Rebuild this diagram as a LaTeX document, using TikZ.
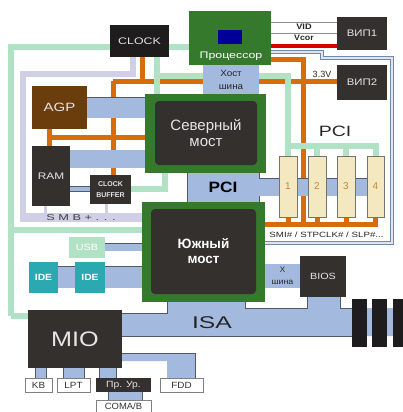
\documentclass[tikz,border=0pt]{standalone}
\usepackage{graphicx}
\usepackage{fontspec}
\setmainfont{Liberation Sans}
\usetikzlibrary{calc}
\definecolor{cOrange}{HTML}{D96C0A}
\definecolor{cMint}{HTML}{B2E2C6}
\definecolor{cLav}{HTML}{CFCFE6}
\definecolor{cBus}{HTML}{A3B9DE}
\definecolor{cEdge}{HTML}{4F5A6E}
\definecolor{cDark}{HTML}{33302E}
\definecolor{cBlack}{HTML}{1E1C1C}
\definecolor{cGreen}{HTML}{357A2C}
\definecolor{cBrown}{HTML}{6B3D0C}
\definecolor{cTeal}{HTML}{2AA9B0}
\definecolor{cSlot}{HTML}{F3E8BF}
\definecolor{cNum}{HTML}{C08A3A}
\definecolor{cSteel}{HTML}{6D8AA6}
\newcommand{\fs}[1]{\fontsize{#1}{#1}\selectfont}
\newcommand{\wid}[2]{\scalebox{#1}[1]{#2}}
\newcommand{\bx}[7]{%
  \pgfmathsetmacro{\bw}{#4-#2}\pgfmathsetmacro{\bh}{#5-#3}%
  \pgfmathsetmacro{\cx}{(#2+#4)/2}\pgfmathsetmacro{\cy}{(#3+#5)/2}%
  \node[#6,minimum width=\bw pt,minimum height=\bh pt] (#1) at (\cx,\cy) {#7};}
\tikzset{
  boxbase/.style={inner sep=0pt,outer sep=0pt,align=center,rectangle},
  darkbox/.style={boxbase,fill=cDark,text=white!90!black},
  blackbox/.style={boxbase,fill=cBlack,text=white!90!black},
  greenbox/.style={boxbase,fill=cGreen},
  slotbox/.style={boxbase,fill=cSlot,draw=black!55,line width=.5pt,text=cNum},
  portbox/.style={boxbase,fill=white,draw=black!50,line width=.6pt,text=black!80},
  tealbox/.style={boxbase,fill=cTeal,text=white},
  wireO/.style={cOrange,line width=5pt},
  wireM/.style={cMint,line width=5.5pt},
  wireL/.style={cLav,line width=6pt},
  wireG/.style={black!45,line width=.9pt},
  steel/.style={draw=cSteel,double=cLav!60!white,line width=.9pt,double distance=1.3pt},
  bus/.style={draw=cEdge,double=cBus,line width=.6pt,double distance=#1},
  busfill/.style={fill=cBus,draw=none},
  lbl/.style={inner sep=0pt,text=black!85}
}
\begin{document}
\begin{tikzpicture}[x=1pt,y=-1pt]
\useasboundingbox (0,0) rectangle (403,412);
% anchors only: the visible blocks are drawn after the wires
\bx{cpu}{189}{11}{271}{65}{boxbase}{}
\bx{clk}{110}{25}{169}{57}{boxbase}{}
\bx{vrm1}{337}{17}{387}{50}{boxbase}{}
\bx{vrm2}{337}{65}{387}{100}{boxbase}{}
\bx{nb}{145}{94}{266}{173}{boxbase}{}
\bx{sb}{142}{202}{265}{302}{boxbase}{}
\bx{agp}{32}{86}{87}{129}{boxbase}{}
\bx{ram}{32}{146}{70}{206}{boxbase}{}
\bx{cb}{90}{175}{131}{204}{boxbase}{}
\bx{s1}{279}{156}{297}{217}{boxbase}{}
\bx{s2}{308}{156}{326}{217}{boxbase}{}
\bx{s3}{337}{156}{355}{217}{boxbase}{}
\bx{s4}{367}{156}{384}{217}{boxbase}{}
% junction coordinates
\coordinate (oTop) at (303,60);
\coordinate (oBot) at (303,224);
\coordinate (oLeft) at (265,224);
\coordinate (oRight) at (378,224);
\coordinate (o81) at (113,81);
\coordinate (o137) at (113,137);
\coordinate (mTL) at (11,47);
\coordinate (mBL) at (11,316);
\coordinate (mA) at (157,76);
\coordinate (mB) at (288,76);
\coordinate (mC) at (288,146);
\coordinate (mD) at (376,146);
\coordinate (lA) at (133,74);
\coordinate (lB) at (23,74);
\coordinate (lC) at (23,217);
% orange wires
\draw[wireO] (clk.south -| 142,0) -- (142,81);
\draw[wireO] (o81) -- (o81 -| vrm2.west);
\draw[wireO] (o81) -- (cb.north -| o81);
\draw[wireO] (agp.south -| 49,0) -- (ram.north -| 49,0);
\draw[wireO] (49,137) -- (o137 -| nb.west);
\draw[wireO] (cpu.east |- oTop) -- (oTop) -- (oBot);
\draw[wireO] (oLeft) -- (oRight);
\foreach \s/\n in {s1/288,s2/317,s3/346,s4/376}{\draw[wireO] (\s.south) -- (\s.south |- oBot);}
% mint wires
\draw[wireM] (mBL) -- (mTL) -- (mTL -| cpu.west);
\draw[wireM] (mBL) -- (mBL -| 30,0);
\draw[wireM] (11,230) -- (sb.west |- 11,230);
\draw[wireM] (mA |- clk.south) -- (mA |- nb.north);
\draw[wireM] (mA) -- (mA -| cpu.west);
\draw[wireM] (cpu.west |- mA) -- (mB) -- (mC);
\draw[wireM] (mC |- s1.north) -- (mC) -- (mD) -- (mD |- s4.north);
\draw[wireM] (s2.north) -- (s2.north |- mC);
\draw[wireM] (s3.north) -- (s3.north |- mC);
\draw[wireM] (cb.east |- 0,189) -- (165,189) -- (165,173);
% lavender wires
\draw[wireL] (lA |- clk.south) -- (lA) -- (lB) -- (lC);
\fill[cLav] (20,213) rectangle (142,222);
\draw[cLav,line width=3pt] (ram.south -| 45,0) -- (45,214);
\draw[cLav,line width=3pt] (cb.south -| 106,0) -- (106,214);
\node[lbl,text=black!75] (smb) at (81,218) {\fs{8.5}\wid{1.5}{S M B + . . .}};
% voltage lines
\draw[wireG] (cpu.east |- 0,22) -- (vrm1.west |- 0,22);
\draw[wireG] (cpu.east |- 0,33) -- (vrm1.west |- 0,33);
\draw[red!85!black,line width=4pt] (cpu.east |- 0,46) -- (vrm1.west |- 0,46);
% steel signal line
\draw[steel] (cpu.east |- 0,52) -- (322,52) -- (322,58) -- (392,58) -- (392,243) -- (sb.east |- 0,243);
% buses
\draw[bus=20pt] (agp.east) -- (agp.east -| nb.west);
\draw[bus=17.5pt] (ram.east |- 0,159) -- (nb.west |- 0,159);
\draw[bus=4pt] (ram.east |- 0,189) -- (cb.west |- 0,189);
\draw[bus=17pt] (259,187) -- (s4.west |- 0,187);
\bx{pcib}{187}{173}{259}{202}{boxbase,fill=cBus}{\fs{15}\bfseries\wid{1.15}{PCI}}
\draw[cEdge,line width=.6pt] (259,173) -- (259,178) (259,202) -- (259,196);
\draw[cEdge,line width=.6pt] (187,173) -- (187,202);
% ISA and FDD shapes
\path[busfill] (122,314) -- (167,314) -- (167,302) -- (245,302) -- (245,308) -- (307,308) -- (307,297) -- (340,297) -- (340,308) -- (403,308) -- (403,336) -- (122,336) -- cycle;
\draw[cEdge,line width=.7pt] (122,313.5) -- (167,313.5) -- (167,302) (245,302) -- (245,308) -- (307,308) -- (307,297) (340,297) -- (340,308) -- (352,308) (122,336) -- (352,336);
\path[busfill] (122,353) -- (195,353) -- (195,378) -- (167,378) -- (167,361) -- (122,361) -- cycle;
\draw[cEdge,line width=.7pt] (122,353) -- (195,353) -- (195,378);
% visible blocks
\bx{clk}{110}{25}{169}{57}{blackbox}{\fs{9.5}\wid{1.3}{CLOCK}}
\bx{vrm1}{337}{17}{387}{50}{darkbox}{\fs{9.5}\wid{1.2}{ВИП1}}
\bx{vrm2}{337}{65}{387}{100}{darkbox}{\fs{9.5}\wid{1.2}{ВИП2}}
\bx{agp}{32}{86}{87}{129}{boxbase,fill=cBrown,text=white!90!black}{\fs{12}\wid{1.25}{AGP}}
\bx{ram}{32}{146}{70}{206}{darkbox}{\fs{9.5}\wid{1.25}{RAM}}
\bx{cb}{90}{175}{131}{204}{darkbox}{\fs{7}\bfseries CLOCK\\[-.5pt]\fs{7}\bfseries BUFFER}
\bx{s1}{279}{156}{297}{217}{slotbox}{\fs{10}1}
\bx{s2}{308}{156}{326}{217}{slotbox}{\fs{10}2}
\bx{s3}{337}{156}{355}{217}{slotbox}{\fs{10}3}
\bx{s4}{367}{156}{384}{217}{slotbox}{\fs{10}4}
\bx{cpu}{189}{11}{271}{65}{greenbox}{}
\node[boxbase,fill=blue!60!black,minimum width=24pt,minimum height=14pt] (chip) at (230,37) {};
\node[lbl,text=white] (cpul) at (231,56) {\fs{9.5}\wid{1.3}{Процессор}};
\bx{host}{203}{65}{259}{95}{boxbase,fill=cBus,text=black!85}{\fs{9}\wid{1.1}{Хост}\\[1pt]\fs{9}\wid{1.1}{шина}}
\bx{nb}{145}{94}{266}{173}{greenbox}{}
\node[boxbase,fill=cDark,rounded corners=4pt,text=white!90!black,minimum width=102pt,minimum height=64pt] (nbi) at (206,133) {\fs{15}Северный\\[4pt]\fs{15}мост};
\bx{sb}{142}{202}{265}{302}{greenbox}{}
\node[boxbase,fill=cDark,rounded corners=4pt,text=white,minimum width=105pt,minimum height=85pt] (sbi) at (203.5,251.5) {\fs{13.5}\bfseries Южный\\[3pt]\fs{13.5}\bfseries мост};
% voltage labels
\node[lbl] (vid) at (304,27) {\fs{8}\bfseries\wid{1.15}{VID}};
\node[lbl] (vcor) at (304,38) {\fs{8}\bfseries\wid{1.1}{Vcor}};
\node[lbl] (v33) at (322,74) {\fs{9}3.3V};
\node[lbl] (pcit) at (335,131) {\fs{15}\wid{1.3}{PCI}};
\node[lbl] (smi) at (326.5,235) {\fs{7.6}\wid{1.28}{SMI\# / STPCLK\# / SLP\#...}};
% south-side peripherals
\draw[bus=7pt] (105,247) -- (sb.west |- 0,247);
\draw[bus=21pt] (58,277) -- (sb.west |- 0,277);
\bx{usb}{69}{237}{105}{258}{boxbase,fill=cMint,text=white}{\fs{9}\wid{1.2}{USB}}
\bx{ide1}{29}{262}{58}{293}{tealbox}{\fs{9}\bfseries\wid{1.15}{IDE}}
\bx{ide2}{75}{262}{105}{293}{tealbox}{\fs{9}\bfseries\wid{1.15}{IDE}}
\bx{xbus}{265}{264}{300}{288}{boxbase,fill=cBus,text=black!85}{\fs{8}Х\\[0pt]\fs{8}\wid{1.1}{шина}}
\bx{bios}{300}{256}{346}{297}{darkbox}{\fs{9}\wid{1.2}{BIOS}}
\node[lbl] (isa) at (212,323) {\fs{17}\wid{1.45}{ISA}};
\foreach \n/\a/\b in {i1/352/367,i2/372/387,i3/393/403}{\bx{\n}{\a}{299}{\b}{347}{blackbox}{}}
% MIO and ports
\bx{mio}{28}{310}{122}{368}{darkbox}{\fs{21}\wid{1.2}{MIO}}
\bx{kb}{25}{378}{52}{392}{portbox}{\fs{9}\wid{1.1}{KB}}
\bx{lpt}{57}{378}{90}{392}{portbox}{\fs{9}\wid{1.1}{LPT}}
\bx{pr}{96}{378}{151}{392}{darkbox}{\fs{9}\wid{1.15}{Пр. Ур.}}
\bx{fdd}{160}{378}{203}{392}{portbox}{\fs{9}\wid{1.1}{FDD}}
\bx{com}{96}{400}{151}{412}{portbox}{\fs{9}\wid{1.05}{COMA/B}}
\fill[cBus] (35,368) rectangle (46,378);
\fill[cBus] (63,368) rectangle (84,378);
\fill[cBus] (99,368) rectangle (116,378);
\fill[cBus] (108,392) rectangle (142,400);
\draw[cEdge,line width=.5pt] (35,368) -- (35,378) (46,368) -- (46,378) (63,368) -- (63,378) (84,368) -- (84,378) (99,368) -- (99,378) (116,368) -- (116,378) (108,392) -- (108,400) (142,392) -- (142,400);
\end{tikzpicture}
\end{document}
